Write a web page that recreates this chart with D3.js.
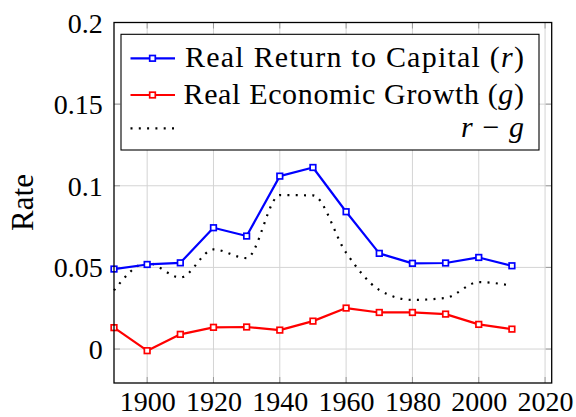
<!DOCTYPE html>
<html>
<head>
<meta charset="utf-8">
<script src="https://cdn.jsdelivr.net/npm/d3@7"></script>
<style>
  html, body { margin: 0; padding: 0; background: #fff; }
  svg { display: block; }
</style>
</head>
<body>
<svg id="chart" width="576" height="417"></svg>
<script>
// ---- data ----
const years = [1890, 1900, 1910, 1920, 1930, 1940, 1950, 1960, 1970, 1980, 1990, 2000, 2010];
const rValues = [0.0490, 0.0518, 0.0528, 0.0743, 0.0692, 0.1059, 0.1112, 0.0841, 0.0586, 0.0525, 0.0527, 0.0561, 0.0510];
const gValues = [0.0131, -0.0010, 0.0090, 0.0133, 0.0135, 0.0116, 0.0171, 0.0251, 0.0224, 0.0224, 0.0214, 0.0151, 0.0122];
const rgValues = [0.0359, 0.0528, 0.0438, 0.0610, 0.0557, 0.0943, 0.0941, 0.0590, 0.0362, 0.0301, 0.0313, 0.0410, 0.0388];
const xTicks = [1900, 1920, 1940, 1960, 1980, 2000, 2020];
const yTicks = [0, 0.05, 0.1, 0.15, 0.2];
const yTickLabels = ["0", "0.05", "0.1", "0.15", "0.2"];
const xDomain = [1890, 2022];
const yDomain = [-0.0208, 0.2];

// ---- layout ----
const L = 114, R = 551.7, T = 22.5, B = 383;
const FONT = "font-family:'Liberation Serif',serif;";
const svg = d3.select("#chart");
const x = d3.scaleLinear().domain(xDomain).range([L, R]);
const y = d3.scaleLinear().domain(yDomain).range([B, T]);

// grid
const grid = svg.append("g");
grid.selectAll(".gx").data(xTicks).join("line")
  .attr("x1", d => x(d)).attr("x2", d => x(d)).attr("y1", T).attr("y2", B)
  .attr("stroke", "#d4d4d4").attr("stroke-width", 1);
grid.selectAll(".gy").data(yTicks).join("line")
  .attr("y1", d => y(d)).attr("y2", d => y(d)).attr("x1", L).attr("x2", R)
  .attr("stroke", "#d4d4d4").attr("stroke-width", 1);

// tick marks (inside, both sides)
const tk = svg.append("g").attr("stroke", "#9a9a9a").attr("stroke-width", 1);
xTicks.forEach(d => {
  tk.append("line").attr("x1", x(d)).attr("x2", x(d)).attr("y1", B).attr("y2", B - 6);
  tk.append("line").attr("x1", x(d)).attr("x2", x(d)).attr("y1", T).attr("y2", T + 6);
});
yTicks.forEach(d => {
  tk.append("line").attr("y1", y(d)).attr("y2", y(d)).attr("x1", L).attr("x2", L + 6);
  tk.append("line").attr("y1", y(d)).attr("y2", y(d)).attr("x1", R).attr("x2", R - 6);
});

// axes labels via d3 axes (no domain / tick lines)
const xAxis = svg.append("g").attr("transform", `translate(0,${B})`)
  .call(d3.axisBottom(x).tickValues(xTicks).tickFormat(d3.format("d")).tickSize(0).tickPadding(27.5));
xAxis.select(".domain").remove();
xAxis.selectAll("text").attr("style", FONT + "font-size:28px;fill:#000").attr("dy", 0);

const yAxis = svg.append("g").attr("transform", `translate(${L},0)`)
  .call(d3.axisLeft(y).tickValues(yTicks).tickFormat((d, i) => yTickLabels[i]).tickSize(0).tickPadding(11.3));
yAxis.select(".domain").remove();
yAxis.selectAll("text").attr("style", FONT + "font-size:28px;fill:#000").attr("dy", "0.34em");

// y label
svg.append("text").attr("transform", "translate(33,202.5) rotate(-90)")
  .attr("text-anchor", "middle").attr("style", FONT + "font-size:31px;fill:#000").text("Rate");

// lines
const lineR = d3.line().x((d, i) => x(years[i])).y(d => y(d));
const lineSmooth = d3.line().x((d, i) => x(years[i])).y(d => y(d)).curve(d3.curveMonotoneX);

svg.append("path").datum(rgValues).attr("d", lineSmooth)
  .attr("fill", "none").attr("stroke", "#000").attr("stroke-width", 2.2)
  .attr("stroke-dasharray", "2 6.3");

function series(vals, color) {
  svg.append("path").datum(vals).attr("d", lineR)
    .attr("fill", "none").attr("stroke", color).attr("stroke-width", 2.2).attr("stroke-linejoin", "round");
  svg.append("g").selectAll("rect").data(vals).join("rect")
    .attr("x", (d, i) => x(years[i]) - 2.8).attr("y", d => y(d) - 2.8)
    .attr("width", 5.6).attr("height", 5.6)
    .attr("fill", "#fff").attr("stroke", color).attr("stroke-width", 1.7);
}
series(rValues, "#0000ff");
series(gValues, "#ff0000");

// axis box
svg.append("rect").attr("x", L).attr("y", T).attr("width", R - L).attr("height", B - T)
  .attr("fill", "none").attr("stroke", "#000").attr("stroke-width", 1.3);

// legend
const lg = svg.append("g");
lg.append("rect").attr("x", 121).attr("y", 34.3).attr("width", 418).attr("height", 115.7)
  .attr("fill", "#fff").attr("stroke", "#000").attr("stroke-width", 1.1);

const legendItems = [
  { color: "#0000ff", marker: true, ly: 58.3, by: 67, parts: [["Real Return to Capital (", false], ["r", true], [")", false]], len: 339 },
  { color: "#ff0000", marker: true, ly: 95, by: 103.7, parts: [["Real Economic Growth (", false], ["g", true], [")", false]], len: 340.5 },
  { color: "#000", marker: false, ly: 128.3, by: 137, parts: [["r", true], [" − ", false], ["g", true]], len: 63 }
];
legendItems.forEach(it => {
  const ln = lg.append("line").attr("x1", 130.5).attr("x2", 175).attr("y1", it.ly).attr("y2", it.ly)
    .attr("stroke", it.color).attr("stroke-width", 2.2);
  if (!it.marker) ln.attr("stroke-dasharray", "2 6.3");
  if (it.marker) {
    lg.append("rect").attr("x", 152.5 - 2.8).attr("y", it.ly - 2.8).attr("width", 5.6).attr("height", 5.6)
      .attr("fill", "#fff").attr("stroke", it.color).attr("stroke-width", 1.7);
  }
  const t = lg.append("text").attr("x", 524).attr("y", it.by).attr("text-anchor", "end")
    .attr("style", FONT + "font-size:30px;fill:#000")
    .attr("textLength", it.len).attr("lengthAdjust", "spacing");
  it.parts.forEach(p => {
    t.append("tspan").attr("font-style", p[1] ? "italic" : "normal").text(p[0]);
  });
});
</script>
</body>
</html>
